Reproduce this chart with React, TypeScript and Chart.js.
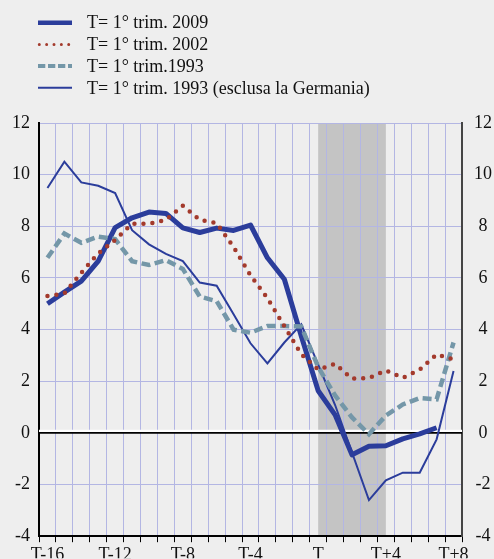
import React, { useEffect, useRef } from "react";
import { Chart, registerables } from "chart.js";

Chart.register(...registerables);

// ---------- data ----------
const categories = [
  "T-16", "T-15", "T-14", "T-13", "T-12", "T-11", "T-10", "T-9", "T-8",
  "T-7", "T-6", "T-5", "T-4", "T-3", "T-2", "T-1", "T",
  "T+1", "T+2", "T+3", "T+4", "T+5", "T+6", "T+7", "T+8",
];
const shownTickLabels = ["T-16", "T-12", "T-8", "T-4", "T", "T+4", "T+8"];

const legendLabels = [
  "T= 1° trim. 2009",
  "T= 1° trim. 2002",
  "T= 1° trim.1993",
  "T= 1° trim. 1993 (esclusa la Germania)",
];

const series2009 = [
  5.0, 5.45, 5.88, 6.65, 7.95, 8.33, 8.55, 8.5, 7.94, 7.76, 7.93, 7.84, 8.05,
  6.78, 5.95, 3.75, 1.63, 0.7, -0.85, -0.52, -0.5, -0.23, -0.04, 0.2, null,
];
const series2002 = [
  5.3, 5.4, 6.2, 6.95, 7.47, 8.1, 8.1, 8.25, 8.8, 8.25, 8.12, 7.2, 6.1,
  5.22, 4.13, 3.05, 2.45, 2.68, 2.1, 2.12, 2.42, 2.13, 2.45, 3.04, 2.85,
];
const series1993 = [
  6.78, 7.72, 7.36, 7.6, 7.5, 6.65, 6.5, 6.69, 6.35, 5.28, 5.1, 4.0, 3.88,
  4.14, 4.14, 4.12, 2.55, 1.45, 0.6, -0.05, 0.67, 1.1, 1.35, 1.3, 3.5,
];
const series1993exDE = [
  9.48, 10.5, 9.7, 9.57, 9.29, 7.85, 7.3, 6.93, 6.65, 5.82, 5.7, 4.59, 3.47,
  2.69, 3.5, 4.2, 2.64, 1.08, -0.76, -2.6, -1.84, -1.54, -1.54, -0.25, 2.4,
];

const shadeFrom = "T";
const shadeTo = "T+4";
const yMin = -4;
const yMax = 12;
const yStep = 2;

// ---------- styles ----------
const BG = "#eeeeee";
const GRID = "#b3b6e3";
const SHADE = "#c4c4c4";
const BLUE = "#2b3d9b";
const RED = "#a33a2c";
const TEAL = "#7497a8";
const FONT_FAMILY = '"Liberation Serif", "Times New Roman", serif';

const legendStyles = [
  { width: 4.5, dash: [] as number[], cap: "butt" as CanvasLineCap, x0: 38, x1: 72 },
  { width: 3, dash: [0, 7.35], cap: "round" as CanvasLineCap, x0: 39.3, x1: 69 },
  { width: 4, dash: [7.3, 2.7], cap: "butt" as CanvasLineCap, x0: 38, x1: 72 },
  { width: 2, dash: [] as number[], cap: "butt" as CanvasLineCap, x0: 38, x1: 72 },
];

const shadePlugin = {
  id: "shade",
  beforeDraw(chart: any) {
    const { ctx, chartArea, scales } = chart;
    const x0 = scales.x.getPixelForValue(categories.indexOf(shadeFrom));
    const x1 = scales.x.getPixelForValue(categories.indexOf(shadeTo));
    ctx.save();
    ctx.fillStyle = SHADE;
    ctx.fillRect(x0, chartArea.top, x1 - x0, chartArea.bottom - chartArea.top - 1);
    ctx.restore();
  },
};

const zeroLinePlugin = {
  id: "zeroLine",
  beforeDatasetsDraw(chart: any) {
    const { ctx, chartArea, scales } = chart;
    const y0 = scales.y.getPixelForValue(0);
    ctx.save();
    ctx.strokeStyle = "#ffffff";
    ctx.lineWidth = 2.5;
    ctx.beginPath();
    ctx.moveTo(chartArea.left, y0 - 2);
    ctx.lineTo(chartArea.right, y0 - 2);
    ctx.stroke();
    ctx.strokeStyle = "#000000";
    ctx.lineWidth = 1.6;
    ctx.beginPath();
    ctx.moveTo(chartArea.left, y0);
    ctx.lineTo(chartArea.right, y0);
    ctx.stroke();
    ctx.restore();
  },
};

const legendPlugin = {
  id: "customLegend",
  afterDraw(chart: any) {
    const { ctx } = chart;
    ctx.save();
    chart.data.datasets.forEach((ds: any, i: number) => {
      const y = 22.7 + i * 21.7;
      const st = legendStyles[i];
      ctx.strokeStyle = ds.borderColor;
      ctx.lineWidth = st.width;
      ctx.lineCap = st.cap;
      ctx.setLineDash(st.dash);
      ctx.beginPath();
      ctx.moveTo(st.x0, y);
      ctx.lineTo(st.x1, y);
      ctx.stroke();
      ctx.setLineDash([]);
      ctx.fillStyle = "#111111";
      ctx.font = `18px ${FONT_FAMILY}`;
      ctx.textBaseline = "middle";
      ctx.textAlign = "left";
      ctx.fillText(legendLabels[i], 87, y + 1);
    });
    ctx.restore();
  },
};

export default function App() {
  const canvasRef = useRef<HTMLCanvasElement | null>(null);

  useEffect(() => {
    document.body.style.margin = "0";
    document.body.style.background = BG;
    const canvas = canvasRef.current;
    if (!canvas) return;

    const tickFont = { family: FONT_FAMILY, size: 18 };

    const chart = new Chart(canvas, {
      type: "line",
      data: {
        labels: categories,
        datasets: [
          {
            label: legendLabels[0],
            data: series2009,
            borderColor: BLUE,
            borderWidth: 5,
            borderJoinStyle: "round",
            pointRadius: 0,
            tension: 0,
            order: 2,
          },
          {
            label: legendLabels[1],
            data: series2002,
            borderColor: RED,
            borderWidth: 4.5,
            borderDash: [0, 9],
            borderCapStyle: "round",
            pointRadius: 0,
            tension: 0,
            order: 0,
          },
          {
            label: legendLabels[2],
            data: series1993,
            borderColor: TEAL,
            borderWidth: 4.5,
            borderDash: [9, 4.5],
            pointRadius: 0,
            tension: 0,
            order: 1,
          },
          {
            label: legendLabels[3],
            data: series1993exDE,
            borderColor: BLUE,
            borderWidth: 2,
            pointRadius: 0,
            tension: 0,
            order: 3,
          },
        ],
      },
      options: {
        responsive: false,
        animation: false,
        events: [],
        layout: { padding: { top: 123, left: 0, right: 0, bottom: 0 } },
        plugins: {
          legend: { display: false },
          tooltip: { enabled: false },
        },
        scales: {
          x: {
            type: "category",
            offset: true,
            grid: {
              offset: true,
              color: GRID,
              lineWidth: 1,
              tickColor: "#000000",
              tickLength: 6,
              drawTicks: true,
            },
            border: { color: "#000000", width: 2 },
            ticks: {
              autoSkip: false,
              maxRotation: 0,
              minRotation: 0,
              padding: 2,
              color: "#111111",
              font: tickFont,
              callback: function (this: any, _v: any, index: number) {
                const lab = categories[index];
                return shownTickLabels.includes(lab) ? lab : "";
              },
            },
            afterFit(scale: any) {
              scale.height = 22;
            },
          },
          y: {
            position: "left",
            min: yMin,
            max: yMax,
            grid: { color: GRID, lineWidth: 1, drawTicks: false },
            border: { color: "#000000", width: 2 },
            ticks: {
              stepSize: yStep,
              padding: 9,
              color: "#111111",
              font: tickFont,
              crossAlign: "near",
            },
            afterFit(scale: any) {
              scale.width = 39;
            },
          },
          y2: {
            position: "right",
            min: yMin,
            max: yMax,
            grid: { drawOnChartArea: false, drawTicks: false },
            border: { color: "#444444", width: 2 },
            ticks: {
              stepSize: yStep,
              padding: 12,
              color: "#111111",
              font: tickFont,
              crossAlign: "center",
            },
            afterFit(scale: any) {
              scale.width = 32;
            },
          },
        },
      },
      plugins: [shadePlugin, zeroLinePlugin, legendPlugin],
    } as any);

    return () => {
      chart.destroy();
    };
  }, []);

  return (
    <div style={{ width: 494, height: 559, background: BG, overflow: "hidden" }}>
      <canvas ref={canvasRef} width={494} height={559} style={{ display: "block" }} />
    </div>
  );
}
